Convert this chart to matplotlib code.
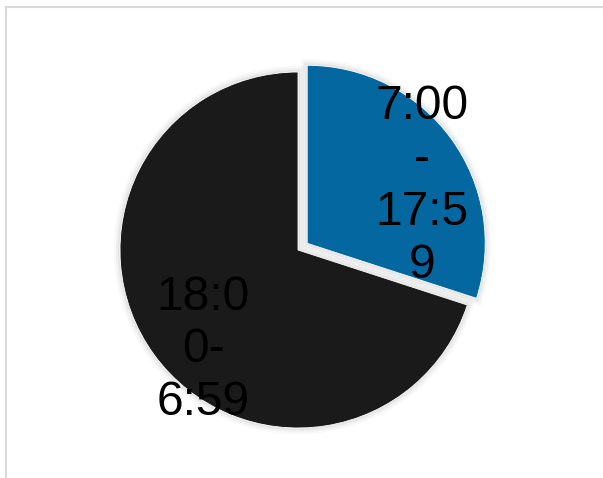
import matplotlib
matplotlib.use("Agg")
import matplotlib.pyplot as plt
import numpy as np
from matplotlib.patches import Rectangle

# Share of the day by time band
labels = ["7:00\n-\n17:5\n9", "18:0\n0-\n6:59"]
shares = [30, 70]
colors = ["#04679f", "#1a1a1a"]
explode = [0.064, 0.0]

W, H = 603, 478
fig = plt.figure(figsize=(W / 100, H / 100), dpi=100)
fig.patch.set_facecolor("white")

# Light frame around the chart area
fig.patches.append(Rectangle((6 / W, -0.1), 1.2, 1 - 7 / H + 0.1,
                             transform=fig.transFigure, fill=False,
                             edgecolor="#d9d9d9", linewidth=1.5))

ax = fig.add_axes([0, 0, 1, 1])
cx, cy, R = 298, 250, 178
ax.axis("off")

# soft shadow under the slices
for lw, a in [(9, 0.025), (6, 0.035), (3, 0.045)]:
    ax.pie(shares, explode=explode, startangle=90, counterclock=False,
           radius=1.0, colors=["none", "none"],
           wedgeprops=dict(edgecolor=(0, 0, 0, a), linewidth=lw))

wedges, _ = ax.pie(shares, explode=explode, startangle=90, counterclock=False,
                   radius=1.0, colors=colors,
                   wedgeprops=dict(edgecolor="white", linewidth=0.6))
ax.set_xlim(-cx / R, (W - cx) / R)
ax.set_ylim(-(H - cy) / R, cy / R)
ax.set_aspect("auto")

# label positions (pixel offsets from pie centre)
label_pos = [((422 - cx) / R, (cy - 186) / R), ((203 - cx) / R, (cy - 350) / R)]
for txt, (x, y) in zip(labels, label_pos):
    ax.text(x, y, txt, ha="center", va="center", fontsize=34.5,
            family="Liberation Sans", color="black", linespacing=1.22)

fig.savefig("out.png", dpi=100, facecolor="white")
